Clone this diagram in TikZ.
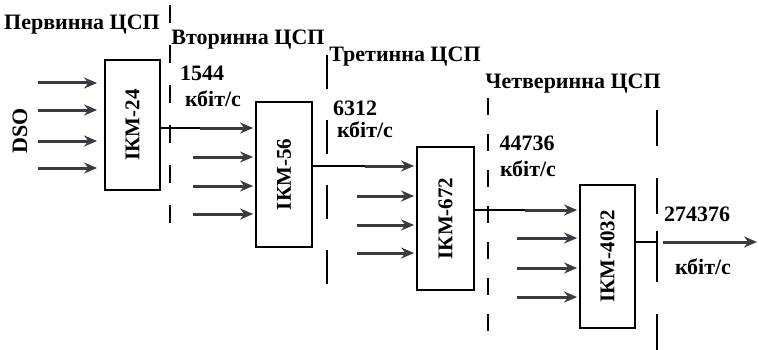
\documentclass[tikz,border=0pt]{standalone}
\usepackage{fontspec}
\setmainfont{Liberation Serif}
\usetikzlibrary{arrows.meta}
\definecolor{arr}{HTML}{3A3A40}
\tikzset{
  box/.style={draw, line width=1.8pt, minimum width=#1, inner sep=0pt},
  boxtext/.style={font=\fontsize{21}{21}\selectfont\bfseries, rotate=90},
  lbl/.style={font=\fontsize{22}{22}\selectfont\bfseries, inner sep=0pt},
  inarrow/.style={draw=arr, line width=3pt, -{Stealth[length=13pt,width=11pt]}, shorten >=2pt},
  conn/.style={draw=black, line width=1.8pt},
  sep/.style={draw=black, line width=2pt}
}
\begin{document}
\begin{tikzpicture}[x=1pt,y=-1pt]
\useasboundingbox (0,0) rectangle (759,350);
% boxes
\node[box=55pt, minimum height=130pt] (b1) at (132.5,125) {};
\node[boxtext] at (b1) {ІКМ-24};
\node[box=56pt, minimum height=145pt] (b2) at (284,174.5) {};
\node[boxtext] at (b2) {ІКМ-56};
\node[box=57pt, minimum height=143pt] (b3) at (445.5,218.5) {};
\node[boxtext] at (b3) {ІКМ-672};
\node[box=55pt, minimum height=143pt] (b4) at (607.5,256.5) {};
\node[boxtext] at (b4) {ІКМ-4032};
% separators
\coordinate (s1t) at (170,5);   \coordinate (s1b) at (170,235);
\coordinate (s2t) at (327,55);  \coordinate (s2b) at (327,290);
\coordinate (s3t) at (488,98);  \coordinate (s3b) at (488,343);
\coordinate (s4t) at (657,110); \coordinate (s4b) at (657,350);
\draw[sep, dash pattern=on 18pt off 22pt] (s1t) -- (s1b);
\draw[sep, dash pattern=on 34pt off 31pt] (s2t) -- (s2b);
\draw[sep, dash pattern=on 17pt off 19pt] (s3t) -- (s3b);
\draw[sep, dash pattern=on 36pt off 32pt] (s4t) -- (s4b);
% inputs box1
\foreach \y [count=\i] in {83,110,141,168} {
  \coordinate (a1\i) at (38,\y);
  \draw[inarrow, shorten >=7pt] (a1\i) -- (a1\i -| b1.west);
}
% inputs box2
\foreach \y [count=\i] in {157,186,214} {
  \coordinate (a2\i) at (193,\y);
  \draw[inarrow] (a2\i) -- (a2\i -| b2.west);
}
% inputs box3
\foreach \y [count=\i] in {196,225,253} {
  \coordinate (a3\i) at (357,\y);
  \draw[inarrow] (a3\i) -- (a3\i -| b3.west);
}
% inputs box4
\foreach \y [count=\i] in {238,268,297} {
  \coordinate (a4\i) at (517,\y);
  \draw[inarrow] (a4\i) -- (a4\i -| b4.west);
}
% connectors
\coordinate (c1) at (200,128);
\draw[conn] (b1.east |- c1) -- ([xshift=-10pt]c1 -| b2.west);
\draw[inarrow] (c1) -- (c1 -| b2.west);
\coordinate (c2) at (365,166);
\draw[conn] (b2.east |- c2) -- ([xshift=-10pt]c2 -| b3.west);
\draw[inarrow] (c2) -- (c2 -| b3.west);
\coordinate (c3) at (525,210);
\draw[conn] (b3.east |- c3) -- ([xshift=-10pt]c3 -| b4.west);
\draw[inarrow] (c3) -- (c3 -| b4.west);
% output
\coordinate (o) at (663,242);
\coordinate (oe) at (757,242);
\draw[conn] (b4.east |- o) -- (o -| s4t);
\draw[sep] ([yshift=-11pt]o -| s4t) -- ([yshift=11pt]o -| s4t);
\draw[inarrow, shorten >=0pt] (o) -- (oe);
% labels
\node[lbl] (l1) at (82,25) {Первинна ЦСП};
\node[lbl] (l2) at (248,40) {Вторинна ЦСП};
\node[lbl] (l3) at (405,57) {Третинна ЦСП};
\node[lbl] (l4) at (573,84) {Четверинна ЦСП};
\node[lbl] (r1) at (202,73) {1544};
\node[lbl] (k1) at (213,99) {кбіт/с};
\node[lbl] (r2) at (355,108) {6312};
\node[lbl] (k2) at (365,130) {кбіт/с};
\node[lbl] (r3) at (527,143) {44736};
\node[lbl] (k3) at (528,169) {кбіт/с};
\node[lbl] (r4) at (697,214) {274376};
\node[lbl] (k4) at (703,267) {кбіт/с};
\node[lbl, rotate=90] (dso) at (20,131) {DSO};
\end{tikzpicture}
\end{document}
